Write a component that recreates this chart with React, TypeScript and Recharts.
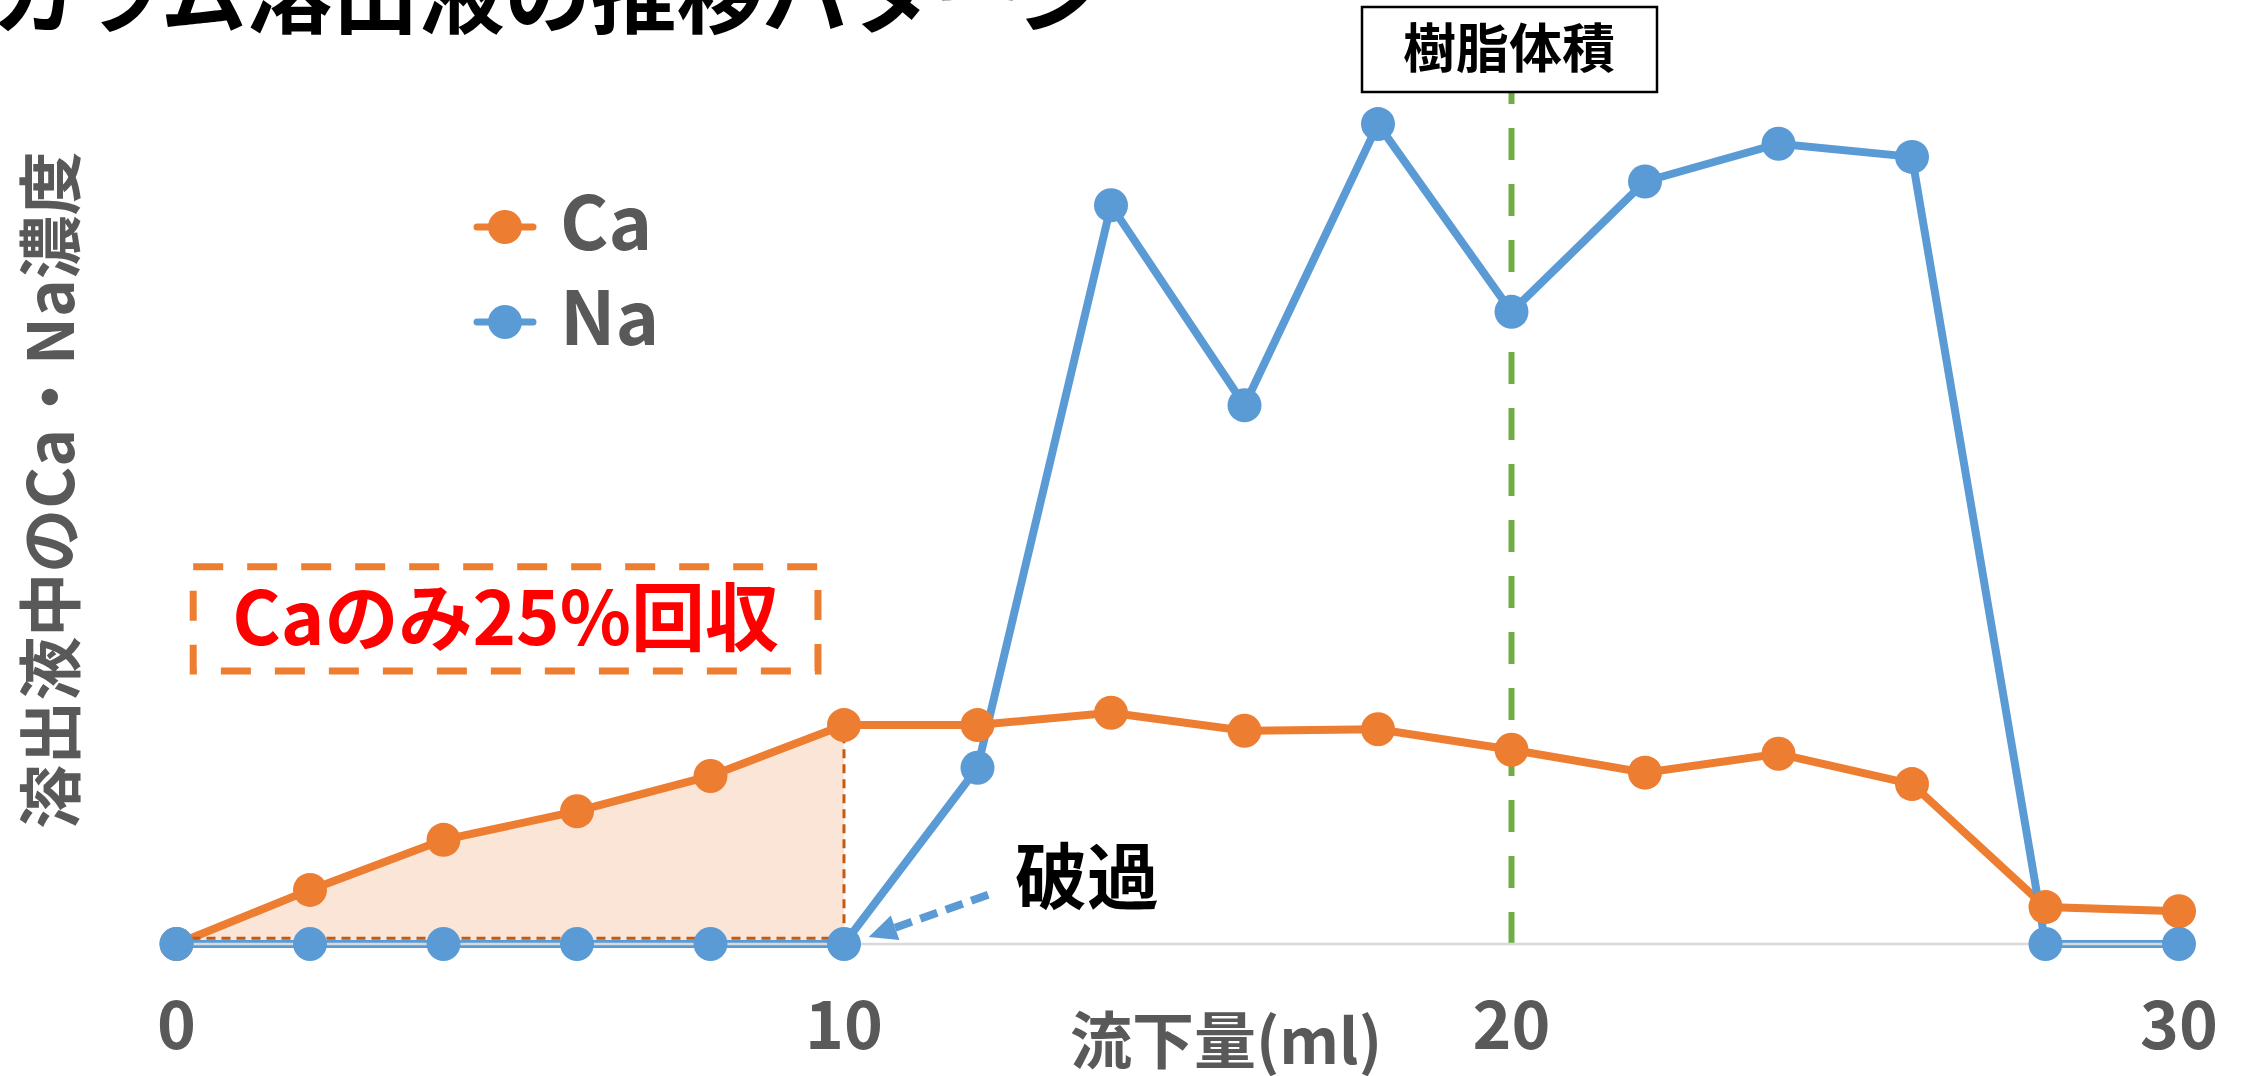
import React from 'react';
import {
  ComposedChart,
  Line,
  Area,
  XAxis,
  YAxis,
  Legend,
  ReferenceLine,
  ReferenceArea,
} from 'recharts';

// 流下量 (ml)
const VOLUMES = [0, 2, 4, 6, 8, 10, 12, 14, 16, 18, 20, 22, 24, 26, 28, 30];
// 濃度 (relative units)
const CA_VALUES = [0, 6.6, 12.7, 16.2, 20.5, 26.7, 26.7, 28.2, 26.0, 26.2, 23.7, 20.9, 23.2, 19.5, 4.5, 4.0];
const NA_VALUES = [0, 0, 0, 0, 0, 0, 21.5, 90.1, 65.7, 100, 77.1, 93.0, 97.6, 96.0, 0, 0];
const X_TICKS = [0, 10, 20, 30];

const BREAKTHROUGH_X = 10; // Ca only recovered until here
const RESIN_VOLUME_X = 20;

const ORANGE = '#ED7D31';
const BLUE = '#5B9BD5';
const GREEN = '#70AD47';
const GRAY = '#595959';
const FONT = '"Noto Sans CJK JP", "Noto Sans", sans-serif';
const LINE_W = 8;

const data = VOLUMES.map((x, i) => ({
  x,
  ca: CA_VALUES[i],
  na: NA_VALUES[i],
  shade: x <= BREAKTHROUGH_X ? CA_VALUES[i] : null,
}));

const caAtBreak = CA_VALUES[VOLUMES.indexOf(BREAKTHROUGH_X)];

const renderLegend = (props: any) => {
  const items = (props.payload || []).filter((p: any) => p.value === 'Ca' || p.value === 'Na');
  return (
    <svg width={300} height={210}>
      {items.map((item: any, i: number) => (
        <g key={item.value} transform={`translate(0, ${i * 95})`}>
          <line x1={37} x2={93} y1={67} y2={67} stroke={item.color} strokeWidth={7} strokeLinecap="round" />
          <circle cx={65} cy={67} r={17} fill={item.color} />
          <text x={120} y={90} fill={GRAY} fontSize={74} fontWeight="bold" fontFamily={FONT}>
            {item.value}
          </text>
        </g>
      ))}
    </svg>
  );
};

// dashed line with an arrow head at (x2, y2)
const ArrowShape = (props: any) => {
  const { x1, y1, x2, y2 } = props;
  if ([x1, y1, x2, y2].some((v) => typeof v !== 'number')) return null;
  const dx = x2 - x1;
  const dy = y2 - y1;
  const len = Math.sqrt(dx * dx + dy * dy) || 1;
  const ux = dx / len;
  const uy = dy / len;
  const head = 28;
  const half = 13;
  const bx = x2 - ux * head;
  const by = y2 - uy * head;
  return (
    <g>
      <line x1={x1} y1={y1} x2={bx} y2={by} stroke={BLUE} strokeWidth={8} strokeDasharray="18 9" />
      <polygon
        points={`${x2},${y2} ${bx - uy * half},${by + ux * half} ${bx + uy * half},${by - ux * half}`}
        fill={BLUE}
      />
    </g>
  );
};

const App: React.FC = () => {
  return (
    <div style={{ position: 'absolute', left: 0, top: 0, width: 2242, height: 1076, background: '#fff', overflow: 'hidden' }}>
      <ComposedChart
        width={2242}
        height={1076}
        data={data}
        margin={{ top: 79, right: 63, left: 176.5, bottom: 0 }}
      >
        <XAxis
          dataKey="x"
          type="number"
          domain={[0, 30]}
          ticks={X_TICKS}
          height={132}
          axisLine={{ stroke: '#D9D9D9', strokeWidth: 2.5 }}
          tickLine={false}
          tickSize={0}
          tickMargin={58}
          tick={{ fill: GRAY, fontSize: 66, fontWeight: 'bold', fontFamily: FONT }}
        />
        <YAxis type="number" domain={[0, 105.5]} hide />
        <ReferenceLine x={RESIN_VOLUME_X} stroke={GREEN} strokeWidth={6} strokeDasharray="32 24" />
        <ReferenceArea
          x1={0.25}
          x2={9.61}
          y1={33.3}
          y2={46.0}
          fill="none"
          fillOpacity={0}
          stroke={ORANGE}
          strokeWidth={7}
          strokeDasharray="30 24"
          label={{
            value: 'Caのみ25%回収',
            position: 'center',
            fill: '#FF0000',
            fontSize: 74,
            fontWeight: 'bold',
            fontFamily: FONT,
          }}
        />
        <Line
          type="linear"
          dataKey="ca"
          name="Ca"
          stroke={ORANGE}
          strokeWidth={LINE_W}
          style={{ strokeWidth: LINE_W }}
          dot={{ r: 17, fill: ORANGE, stroke: 'none', strokeWidth: 0 }}
          activeDot={false}
          isAnimationActive={false}
        />
        <Line
          type="linear"
          dataKey="na"
          name="Na"
          stroke={BLUE}
          strokeWidth={LINE_W}
          style={{ strokeWidth: LINE_W }}
          dot={{ r: 17, fill: BLUE, stroke: 'none', strokeWidth: 0 }}
          activeDot={false}
          isAnimationActive={false}
        />
        <Area
          type="linear"
          dataKey="shade"
          legendType="none"
          fill={ORANGE}
          fillOpacity={0.2}
          stroke="#C55A11"
          strokeWidth={3}
          strokeDasharray="9 6"
          dot={false}
          activeDot={false}
          isAnimationActive={false}
        />
        <ReferenceLine
          segment={[{ x: BREAKTHROUGH_X, y: 0.7 }, { x: BREAKTHROUGH_X, y: caAtBreak }]}
          stroke="#C55A11"
          strokeWidth={3}
          strokeDasharray="9 6"
        />
        <ReferenceLine
          segment={[{ x: 0, y: 0.7 }, { x: BREAKTHROUGH_X, y: 0.7 }]}
          stroke="#C55A11"
          strokeWidth={3}
          strokeDasharray="9 6"
        />
        <ReferenceLine
          segment={[{ x: 12.16, y: 6.0 }, { x: 10.37, y: 0.85 }]}
          shape={(p: any) => <ArrowShape {...p} />}
        />
        <Legend
          layout="vertical"
          align="center"
          verticalAlign="middle"
          content={renderLegend}
          wrapperStyle={{ position: 'absolute', left: 440, top: 160, width: 300, height: 210 }}
        />
      </ComposedChart>

      <svg
        width={2242}
        height={1076}
        style={{ position: 'absolute', left: 0, top: 0, pointerEvents: 'none' }}
        fontFamily={FONT}
        fontWeight="bold"
      >
        <text x={-9} y={27} fontSize={86} fill="#000">カラム溶出液の推移パターン</text>
        <text
          transform="translate(74, 490) rotate(-90)"
          textAnchor="middle"
          fontSize={64}
          fill={GRAY}
        >
          溶出液中のCa・Na濃度
        </text>
        <text x={1226} y={1064} textAnchor="middle" fontSize={62} fill={GRAY}>流下量(ml)</text>
        <rect x={1362} y={7} width={295} height={85} fill="#fff" stroke="#000" strokeWidth={2.5} />
        <text x={1509} y={68} textAnchor="middle" fontSize={53} fill="#000">樹脂体積</text>
        <text x={1087} y={903} textAnchor="middle" fontSize={72} fill="#000">破過</text>
      </svg>
    </div>
  );
};

export default App;
